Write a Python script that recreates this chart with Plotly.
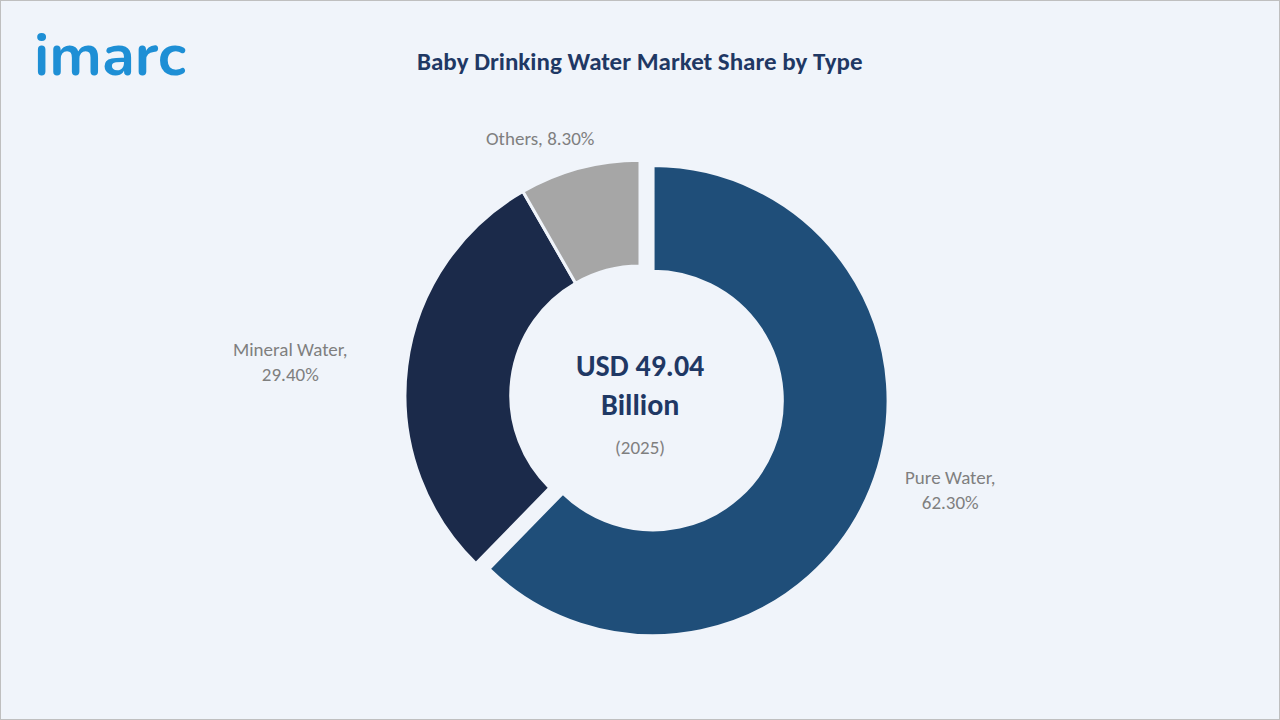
import plotly.graph_objects as go

# chart data
types = ["Pure Water", "Mineral Water", "Others"]
shares = [62.30, 29.40, 8.30]
colors = ["#1F4E79", "#1B2A4A", "#A6A6A6"]

fig = go.Figure()
fig.add_trace(go.Pie(
    labels=types, values=shares, hole=0.55, sort=False, direction="clockwise",
    rotation=0, pull=[0.06, 0, 0], textinfo="none", hoverinfo="label+percent",
    marker=dict(colors=colors, line=dict(color="#F0F4FA", width=3)),
    domain=dict(x=[0.305, 0.695], y=[0.105, 0.797]), showlegend=False,
))


def note(px, py, text, size, color, family=None):
    font = dict(size=size, color=color)
    if family:
        font["family"] = family
    fig.add_annotation(x=px / 1280, y=1 - py / 720, xref="paper", yref="paper",
                       xanchor="center", yanchor="middle", text=text,
                       showarrow=False, font=font)


label_pos = [(950, 490), (290, 362), (540, 138)]
for name, val, (px, py) in zip(types, shares, label_pos):
    txt = f"{name},<br>{val:.2f}%" if name != "Others" else f"{name}, {val:.2f}%"
    note(px, py, txt, 19, "#7F7F7F")

note(640, 385, "<b>USD 49.04<br>Billion</b>", 30, "#1F3864")
note(640, 447, "(2025)", 19, "#7F7F7F")
note(640, 61, "<b>Baby Drinking Water Market Share by Type</b>", 25, "#1F3864")
note(110, 55, "<b>imarc</b>", 60, "#1E8FD5", "Nunito, Lato, sans-serif")

fig.update_layout(
    width=1280, height=720, margin=dict(l=0, r=0, t=0, b=0),
    paper_bgcolor="#F0F4FA", font=dict(family="Calibri, Carlito, Open Sans, sans-serif"),
    shapes=[dict(type="rect", xref="paper", yref="paper", x0=0, y0=0, x1=1, y1=1,
                 line=dict(color="#BFBFBF", width=2))],
)
fig.write_html("out.html", config={"displayModeBar": False},
               post_script="document.body.style.margin='0';document.body.style.overflow='hidden';")
